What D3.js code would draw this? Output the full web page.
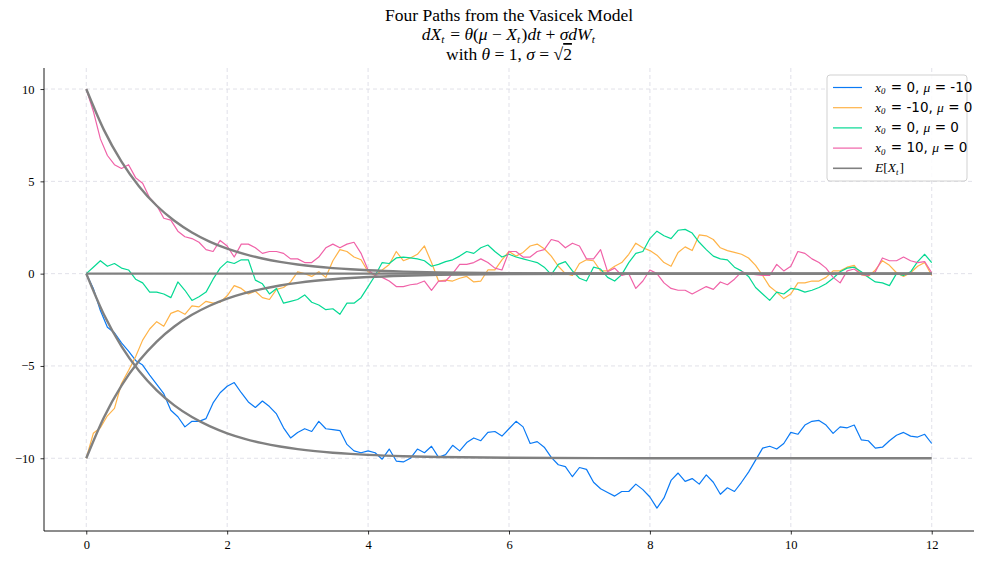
<!DOCTYPE html>
<html lang="en">
<head>
<meta charset="UTF-8">
<title>Vasicek paths</title>
<script src="https://cdn.jsdelivr.net/npm/d3@7"></script>
<style>
  body { margin: 0; background: #fff; }
  svg text { font-family: "Liberation Serif", "DejaVu Serif", serif; }
</style>
</head>
<body>
<script>
// step between samples, every 0.1 time units
const dt = 0.1;

const bluePath = [
  0, -0.8, -2.0, -2.9, -3.2, -3.75, -4.2, -4.7, -4.95, -5.5,
  -6.0, -6.5, -7.4, -7.75, -8.3, -8.0, -8.0, -7.85, -7.0, -6.45,
  -6.1, -5.9, -6.45, -6.95, -7.25, -6.9, -7.2, -7.6, -8.35, -8.9,
  -8.6, -8.4, -8.55, -8.0, -8.4, -8.45, -8.5, -9.25, -9.6, -9.7,
  -9.6, -9.7, -10.05, -9.5, -10.15, -10.2, -10.0, -9.5, -9.7, -9.35,
  -9.95, -9.8, -9.3, -9.6, -9.15, -8.9, -9.05, -8.6, -8.55, -8.8,
  -8.4, -8.0, -8.3, -9.2, -9.1, -9.4, -9.95, -10.35, -10.45, -11.0,
  -10.5, -10.6, -11.3, -11.65, -11.85, -12.05, -11.8, -11.8, -11.4, -11.7,
  -12.1, -12.7, -12.15, -11.2, -10.8, -11.25, -11.1, -11.4, -10.9, -11.3,
  -11.95, -11.6, -11.8, -11.3, -10.75, -10.1, -9.45, -9.35, -9.5, -9.2,
  -8.6, -8.7, -8.2, -8.0, -7.95, -8.2, -8.65, -8.3, -8.35, -8.2,
  -9.0, -9.05, -9.45, -9.4, -9.05, -8.75, -8.6, -8.8, -8.85, -8.7,
  -9.2
];
const orangePath = [
  -10, -8.65, -8.35, -7.7, -7.3, -5.95, -5.25, -4.5, -3.6, -3.0,
  -2.6, -2.85, -2.15, -2.0, -2.2, -1.75, -1.8, -1.5, -1.6, -1.55,
  -1.2, -0.65, -0.8, -1.1, -0.95, -1.3, -1.4, -0.85, -0.75, -0.45,
  0.1, 0.0, -0.15, 0.1, -0.2, 0.7, 1.3, 1.2, 0.9, 0.75,
  0.1, -0.1, 0.2, 0.5, 1.2, 0.7, 0.85, 1.05, 1.5, 0.6,
  -0.4, -0.35, -0.4, -0.25, -0.15, -0.45, -0.4, 0.2, 0.2, 0.75,
  1.2, 0.95, 1.15, 1.5, 1.6, 1.35, 0.95, 0.4, 0.0, -0.1,
  0.55, 0.75, 0.7, 0.15, 0.15, 0.4, 0.6, 1.05, 1.65, 1.4,
  1.25, 1.0, 0.6, 0.4, 1.15, 1.45, 1.25, 2.1, 2.05, 1.85,
  1.4, 1.25, 1.15, 1.05, 0.85, 0.45, -0.1, -0.7, -1.0, -1.35,
  -1.1, -0.5, -0.5, -0.4, -0.4, -0.2, 0.15, 0.15, 0.35, 0.45,
  -0.05, -0.15, 0.2, 0.7, 0.45, 0.05, -0.15, 0.05, 0.4, 0.6,
  -0.1
];
const greenPath = [
  0, 0.35, 0.7, 0.4, 0.55, 0.3, 0.2, -0.3, -0.5, -1.0,
  -1.0, -1.1, -1.3, -0.45, -0.9, -1.45, -1.25, -1.0, -0.3, 0.3,
  0.65, 0.55, 0.75, 0.75, -0.35, -0.55, -1.1, -0.8, -1.6, -1.5,
  -1.4, -1.15, -1.55, -1.7, -1.95, -1.9, -2.2, -1.6, -1.6, -1.3,
  -0.7, -0.1, 0.6, 0.55, 0.85, 0.9, 0.85, 0.8, 0.7, 0.4,
  0.5, 0.65, 0.75, 0.95, 1.2, 1.1, 1.4, 1.55, 1.2, 0.9,
  1.05, 0.9, 0.8, 0.7, 0.6, 0.35, -0.05, 0.5, 0.65, 0.15,
  -0.25, -0.4, 0.35, 0.25, -0.2, -0.4, -0.05, 0.6, 1.1, 1.2,
  1.9, 2.3, 2.05, 1.9, 2.35, 2.4, 2.2, 1.7, 1.3, 0.95,
  0.8, 0.75, 0.35, 0.15, -0.15, -0.75, -1.1, -1.45, -1.0, -1.1,
  -0.8, -0.85, -1.0, -0.9, -0.75, -0.55, -0.25, 0.1, 0.3, 0.35,
  0.1, -0.2, -0.45, -0.5, -0.65, 0.0, -0.1, 0.1, 0.65, 1.05,
  0.6
];
const pinkPath = [
  10, 8.8, 7.3, 6.4, 5.9, 5.7, 5.9, 5.2, 4.9, 4.1,
  3.7, 3.0, 2.9, 2.3, 2.0, 1.9, 1.7, 1.3, 1.2, 1.8,
  1.5, 0.9, 1.6, 1.6, 1.4, 1.1, 1.2, 1.2, 1.1, 0.8,
  0.8, 0.6, 0.6, 0.9, 1.4, 1.6, 1.4, 1.6, 1.7, 1.1,
  0.2, -0.1, -0.2, -0.4, -0.7, -0.7, -0.6, -0.55, -0.4, -0.9,
  -0.4, -0.4, 0.0, 0.5, 0.5, 0.6, 0.8, 0.6, 0.3, 0.2,
  1.2, 1.2, 0.9, 0.9, 1.2, 1.3, 1.85, 1.75, 1.4, 1.65,
  1.5, 0.8, 0.8, 1.3, 0.1, 0.3, -0.1, 0.0, -0.8, -0.4,
  0.2, 0.0, -0.5, -0.8, -0.9, -0.9, -1.1, -0.9, -0.7, -0.85,
  -0.45, -0.6, -0.3, 0.1, 0.0, -0.05, -0.1, -0.1, 0.5, 0.15,
  0.4, 1.2, 1.1, 0.8, 0.6, 0.3, -0.2, -0.5, 0.15, 0.25,
  -0.05, -0.1, 0.1, 0.85, 0.7, 0.7, 0.9, 0.7, 0.6, 0.65,
  0.05
];

// mean-reversion factor exp(-theta t) for the expected-value curves
const decayT = [0, 0.25, 0.5, 0.75, 1, 1.25, 1.5, 1.75, 2, 2.25, 2.5, 2.75, 3, 3.25, 3.5, 3.75, 4, 4.5, 5, 6, 8, 12];
const decayV = [1, 0.7788, 0.6065, 0.4724, 0.3679, 0.2865, 0.2231, 0.1738, 0.1353, 0.1054, 0.0821, 0.0639,
                0.0498, 0.0388, 0.0302, 0.0235, 0.0183, 0.0111, 0.0067, 0.0025, 0.0003, 0];

const startValues = [0, -10, 0, 10];
const meanValues = [-10, 0, 0, 0];
const colors = ["#0a7af5", "#ffb347", "#05d993", "#f062a8"];
const paths = [bluePath, orangePath, greenPath, pinkPath];

const xTicks = [0, 2, 4, 6, 8, 10, 12];
const yTicks = [-10, -5, 0, 5, 10];

const W = 984, H = 564;
const margin = {top: 68, right: 10, bottom: 33, left: 44};

const svg = d3.select("body").append("svg").attr("width", W).attr("height", H);

const x = d3.scaleLinear().domain([-0.6, 12.6]).range([margin.left, W - margin.right]);
const y = d3.scaleLinear().domain([-13.94, 11.14]).range([H - margin.bottom, margin.top]);

// grid
svg.append("g").selectAll("line").data(xTicks).join("line")
  .attr("x1", d => x(d)).attr("x2", d => x(d))
  .attr("y1", margin.top).attr("y2", H - margin.bottom)
  .attr("stroke", "#d9d9e3").attr("stroke-width", 0.8).attr("stroke-dasharray", "4,3");
svg.append("g").selectAll("line").data(yTicks).join("line")
  .attr("x1", margin.left).attr("x2", W - margin.right)
  .attr("y1", d => y(d)).attr("y2", d => y(d))
  .attr("stroke", "#d9d9e3").attr("stroke-width", 0.8).attr("stroke-dasharray", "4,3");

const line = d3.line().x(d => x(d[0])).y(d => y(d[1]));

paths.forEach((vals, k) => {
  svg.append("path")
    .datum(vals.map((v, i) => [i * dt, v]))
    .attr("fill", "none").attr("stroke", colors[k]).attr("stroke-width", 1.2)
    .attr("stroke-linejoin", "round")
    .attr("d", line);
});

const smooth = d3.line().x(d => x(d[0])).y(d => y(d[1])).curve(d3.curveMonotoneX);
paths.forEach((vals, k) => {
  const x0 = startValues[k], mu = meanValues[k];
  svg.append("path")
    .datum(decayT.map((t, i) => [t, mu + (x0 - mu) * decayV[i]]))
    .attr("fill", "none").attr("stroke", "#808080").attr("stroke-width", 2.4)
    .attr("d", smooth);
});

// axes
const fmt = d => d < 0 ? "\u2212" + Math.abs(d) : String(d);
const xAxis = svg.append("g").attr("transform", `translate(0,${H - margin.bottom})`)
  .call(d3.axisBottom(x).tickValues(xTicks).tickFormat(fmt).tickSize(3.5).tickPadding(6));
const yAxis = svg.append("g").attr("transform", `translate(${margin.left},0)`)
  .call(d3.axisLeft(y).tickValues(yTicks).tickFormat(fmt).tickSize(3.5).tickPadding(6));
[xAxis, yAxis].forEach(g => {
  g.selectAll("text").attr("font-family", "Liberation Serif, serif").attr("font-size", 12.5).attr("fill", "#000");
  g.select(".domain").attr("stroke", "#000").attr("stroke-width", 0.9);
  g.selectAll(".tick line").attr("stroke", "#000").attr("stroke-width", 0.8);
});
xAxis.select(".domain").attr("d", `M${margin.left},0H${W - margin.right}`);
yAxis.select(".domain").attr("d", `M0,${margin.top}V${H - margin.bottom}`);

// mixed text helper: parts are [text, kind]
function richText(sel, parts, size) {
  parts.forEach(([t, kind]) => {
    const ts = sel.append("tspan").text(t);
    if (kind === "sans") ts.attr("font-family", "DejaVu Sans, sans-serif");
    if (kind === "it") ts.attr("font-style", "italic");
    if (kind === "sub") {
      ts.attr("font-style", "italic").attr("font-size", size * 0.65).attr("dy", size * 0.18);
      sel.append("tspan").attr("dy", -size * 0.18).text("\u200a");
    }
  });
}

// title
const cx = (margin.left + W - margin.right) / 2;
const ts = 17.5;
svg.append("text").attr("x", cx).attr("y", 21).attr("text-anchor", "middle").attr("font-size", ts)
  .text("Four Paths from the Vasicek Model");
richText(svg.append("text").attr("x", cx).attr("y", 39.5).attr("text-anchor", "middle").attr("font-size", ts), [
  ["dX", "it"], ["t", "sub"], [" = ", ""], ["\u03b8", "it"], ["(", ""], ["\u03bc", "it"], [" \u2212 ", ""],
  ["X", "it"], ["t", "sub"], [")", ""], ["dt", "it"], [" + ", ""], ["\u03c3dW", "it"], ["t", "sub"]
], ts);
const t3 = svg.append("text").attr("x", cx).attr("y", 60).attr("text-anchor", "middle").attr("font-size", ts);
richText(t3, [["with ", ""], ["\u03b8", "it"], [" = 1, ", ""], ["\u03c3", "it"], [" = \u221a", ""]], ts);
t3.append("tspan").attr("text-decoration", "overline").text("2");

// legend
const legendLabels = [
  [["x", "it"], ["0", "sub"], [" = 0, ", "sans"], ["\u03bc", "it"], [" = -10", "sans"]],
  [["x", "it"], ["0", "sub"], [" = -10, ", "sans"], ["\u03bc", "it"], [" = 0", "sans"]],
  [["x", "it"], ["0", "sub"], [" = 0, ", "sans"], ["\u03bc", "it"], [" = 0", "sans"]],
  [["x", "it"], ["0", "sub"], [" = 10, ", "sans"], ["\u03bc", "it"], [" = 0", "sans"]],
  [["E", "it"], ["[", ""], ["X", "it"], ["t", "sub"], ["]", ""]]
];
const legendColors = colors.concat(["#808080"]);
const lg = svg.append("g").attr("transform", `translate(${W - margin.right - 147},${margin.top + 7})`);
lg.append("rect").attr("width", 140).attr("height", 106).attr("rx", 3)
  .attr("fill", "#fff").attr("fill-opacity", 0.85).attr("stroke", "#cccccc").attr("stroke-width", 0.9);
legendLabels.forEach((parts, i) => {
  const yy = 12.5 + i * 20.2;
  lg.append("line").attr("x1", 6).attr("x2", 35).attr("y1", yy).attr("y2", yy)
    .attr("stroke", legendColors[i]).attr("stroke-width", i === 4 ? 1.6 : 1.2);
  richText(lg.append("text").attr("x", 48).attr("y", yy + 4).attr("font-size", 13.5), parts, 13.5);
});
</script>
</body>
</html>
